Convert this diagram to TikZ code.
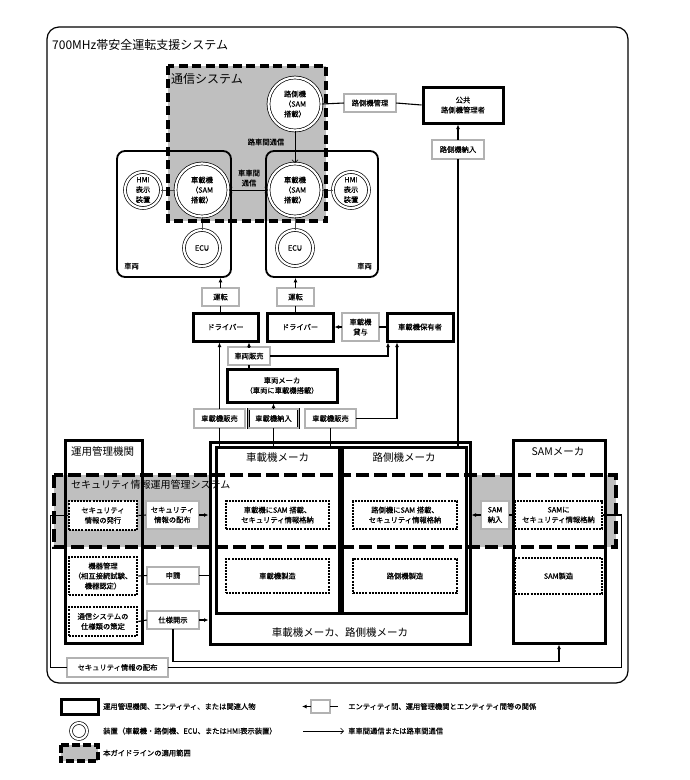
\documentclass[tikz,border=0pt]{standalone}
\usepackage{fontspec}
\setmainfont{Noto Sans CJK JP}
\newfontfamily\jpsmall[FakeBold=0.5]{Noto Sans CJK JP}
\usetikzlibrary{arrows.meta,calc}
\begin{document}
\begin{tikzpicture}[x=1pt,y=-1pt,
  every node/.style={font=\jpsmall\fontsize{7.3}{10}\selectfont, align=center, inner sep=0pt},
  bigtxt/.style={font=\rmfamily\fontsize{12}{14}\selectfont},
  midtxt/.style={font=\rmfamily\fontsize{10.5}{12}\selectfont},
  thickbox/.style={draw, line width=3pt, fill=white},
  openbox/.style={draw, line width=3pt},
  relbox/.style={draw, line width=0.5pt, double=black!30, double distance=1.9pt, fill=white},
  dotbox/.style={draw, line width=2.6pt, dash pattern=on 2pt off 1.1pt, fill=white},
  dev/.style={circle, draw, line width=0.7pt, fill=white, double=white, double distance=2.2pt},
  vehbox/.style={draw, line width=1.8pt, rounded corners=8pt},
  conn/.style={line width=1.1pt},
  arr/.style={conn, -{Latex[length=4.5pt,width=4pt]}},
  commarr/.style={line width=0.6pt, -{Straight Barb[length=3pt,width=6pt]}},
  thinl/.style={line width=0.4pt, black!70},
  scopedash/.style={line width=4pt, dash pattern=on 9pt off 4.5pt},
  banddash/.style={line width=3.5pt, dash pattern=on 13pt off 5pt},
  grayfill/.style={fill=black!25}
]
\useasboundingbox (0,0) rectangle (690,780);
% outer frame
\draw[line width=1.2pt, rounded corners=12pt] (47,27) rectangle (628,683);
\node[anchor=west, bigtxt] (title) at (52,45) {700MHz帯安全運転支援システム};

% scope regions (fills)
\node[minimum width=158pt, minimum height=155pt] (comm) at (247,143.5) {};
\node[minimum width=562pt, minimum height=72pt] (band) at (335,511) {};
\fill[grayfill] (comm.north west) rectangle (comm.south east);
\fill[grayfill] (band.north west) rectangle (band.south east);

% vehicles
\node[vehbox, minimum width=114pt, minimum height=126pt] (vehL) at (174,214) {};
\node[vehbox, minimum width=112pt, minimum height=126pt] (vehR) at (322,214) {};
\node[anchor=west] (vehLl) at (124,266) {車両};
\node[anchor=east] (vehRl) at (372,266) {車両};

% devices
\node[dev, minimum size=53pt] (rsu) at (295,104) {路側機\\（SAM\\搭載）};
\node[dev, minimum size=53pt] (obuL) at (202,190) {車載機\\（SAM\\搭載）};
\node[dev, minimum size=53pt] (obuR) at (295,190) {車載機\\（SAM\\搭載）};
\node[dev, minimum size=36pt] (hmiL) at (143,190) {HMI\\表示\\装置};
\node[dev, minimum size=36pt] (hmiR) at (351,190) {HMI\\表示\\装置};
\node[dev, minimum size=36pt] (ecuL) at (202,248) {ECU};
\node[dev, minimum size=36pt] (ecuR) at (295,248) {ECU};

% upper entities
\node[thickbox, minimum width=80pt, minimum height=36pt] (pub) at (463,105) {公共\\路側機管理者};
\node[relbox, minimum width=52pt, minimum height=18pt] (rsmgmt) at (370,103) {路側機管理};
\node[relbox, minimum width=52pt, minimum height=19pt] (rsin) at (458,149.5) {路側機納入};
\node[relbox, minimum width=37pt, minimum height=18pt] (unL) at (220.5,297) {運転};
\node[relbox, minimum width=37pt, minimum height=18pt] (unR) at (295.5,297) {運転};
\node[thickbox, minimum width=65pt, minimum height=28pt] (drvL) at (225.5,327) {ドライバー};
\node[thickbox, minimum width=66pt, minimum height=28pt] (drvR) at (300,327) {ドライバー};
\node[relbox, minimum width=37pt, minimum height=28pt] (lend) at (360.5,327) {車載機\\貸与};
\node[thickbox, minimum width=66pt, minimum height=28pt] (owner) at (420,327) {車載機保有者};
\node[relbox, minimum width=42pt, minimum height=18pt] (vsale) at (249,356) {車両販売};
\node[thickbox, minimum width=110pt, minimum height=33pt] (vmaker) at (282,385.5) {車両メーカ\\（車両に車載機搭載）};
\node[relbox, minimum width=51pt, minimum height=19pt] (obsL) at (219.5,418.5) {車載機販売};
\node[relbox, minimum width=50pt, minimum height=19pt] (obin) at (273.5,418.5) {車載機納入};
\node[relbox, minimum width=51pt, minimum height=19pt] (obsR) at (330.5,418.5) {車載機販売};

% lower entities
\node[openbox, minimum width=77pt, minimum height=203pt] (ops) at (103.5,541.5) {};
\node[anchor=west, midtxt] (opsl) at (71,452) {運用管理機関};
\node[thickbox, minimum width=260pt, minimum height=202pt] (big) at (340,543) {};
\node[midtxt] (bigl) at (340,633) {車載機メーカ、路側機メーカ};
\node[thickbox, minimum width=123pt, minimum height=166pt] (obm) at (277.5,530) {};
\node[thickbox, minimum width=124pt, minimum height=166pt] (rsm) at (404,530) {};
\node[midtxt] (obml) at (277.5,458) {車載機メーカ};
\node[midtxt] (rsml) at (404,458) {路側機メーカ};
\node[thickbox, minimum width=92pt, minimum height=203pt] (samm) at (559,541.5) {};
\node[midtxt] (samml) at (558,452) {SAMメーカ};

\node[dotbox, minimum width=68pt, minimum height=29pt] (issue) at (103,515.5) {セキュリティ\\情報の発行};
\node[dotbox, minimum width=68pt, minimum height=38pt] (devmg) at (103,576) {機器管理\\（相互接続試験、\\機器認定）};
\node[dotbox, minimum width=68pt, minimum height=29pt] (spec) at (103,621.5) {通信システムの\\仕様類の策定};
\node[dotbox, minimum width=103pt, minimum height=28pt] (obsam) at (277.5,515) {車載機にSAM 搭載、\\セキュリティ情報格納};
\node[dotbox, minimum width=103pt, minimum height=34pt] (obmf) at (277.5,576) {車載機製造};
\node[dotbox, minimum width=104pt, minimum height=28pt] (rssam) at (405,515) {路側機にSAM 搭載、\\セキュリティ情報格納};
\node[dotbox, minimum width=104pt, minimum height=34pt] (rsmf) at (405,576) {路側機製造};
\node[dotbox, minimum width=87pt, minimum height=28pt] (samsec) at (558.5,515) {SAMに\\セキュリティ情報格納};
\node[dotbox, minimum width=87pt, minimum height=36pt] (sammf) at (558.5,576) {SAM製造};

\node[relbox, minimum width=53pt, minimum height=28pt] (dist1) at (172.5,515) {セキュリティ\\情報の配布};
\node[relbox, minimum width=52pt, minimum height=17pt] (apply) at (173,575.5) {申請};
\node[relbox, minimum width=52pt, minimum height=18pt] (spdis) at (173,620) {仕様開示};
\node[relbox, minimum width=28pt, minimum height=28pt] (samin) at (495,515) {SAM\\納入};
\node[relbox, minimum width=101pt, minimum height=19pt] (dist2) at (117.5,667.5) {セキュリティ情報の配布};

% device links
\draw[thinl] (obuL.west) -- (hmiL.east);
\draw[thinl] (obuL.south) -- (ecuL.north);
\draw[thinl] (obuR.east) -- (hmiR.west);
\draw[thinl] (obuR.south) -- (ecuR.north);
\draw[commarr] (rsu.south) -- (obuR.north);
\draw[line width=0.6pt, {Straight Barb[length=3pt,width=6pt]}-{Straight Barb[length=3pt,width=6pt]}] (obuL.east) -- (obuR.west);
\node (lrv) at (266,142) {路車間通信};
\node (lvv) at (249,178) {車車間\\通信};

% upper connectors
\draw[conn] (rsmgmt.west) -- (rsu.east);
\draw[conn] (rsmgmt.east) -- (pub.west);
\draw[conn] (rsin.south) -- (rsin.south |- rsm.north);
\draw[arr] (rsin.north) -- (rsin.north |- pub.south);
\draw[conn] (unL.south) -- (unL.south |- drvL.north);
\draw[arr] (unL.north) -- (unL.north |- vehL.south);
\draw[conn] (unR.south) -- (unR.south |- drvR.north);
\draw[arr] (unR.north) -- (unR.north |- vehR.south);
\draw[conn] (owner.west) -- (lend.east);
\draw[arr] (lend.west) -- (drvR.east);
\draw[conn] (vsale.south) -- (vsale.south |- vmaker.north);
\draw[arr] (vsale.north) -- (vsale.north |- drvL.south);
\draw[arr] (vsale.east) -| ($(owner.south)+(-32,0)$);
\draw[arr] (obsR.east) -| ($(owner.south)+(-23,0)$);
\draw[arr] (obsL.north) -- (obsL.north |- drvL.south);
\draw[conn] (obsL.south) -- (obsL.south |- obm.north);
\draw[arr] (obin.north) -- (obin.north |- vmaker.south);
\draw[conn] (obin.south) -- (obin.south |- obm.north);
\draw[conn] (obsR.south) -- (obsR.south |- obm.north);

% lower connectors
\draw[conn] (issue.east) -- (dist1.west);
\draw[arr] (dist1.east) -- (dist1.east -| big.west);
\draw[conn] (devmg.east) -- (apply.west);
\draw[conn] (apply.east) -- (apply.east -| big.west);
\draw[conn] (spec.east) -- (spdis.west);
\draw[arr] (spdis.east) -- (spdis.east -| big.west);
\draw[arr] (spdis.south) |- ($(samm.south)+(0,17)$) -- (samm.south);
\draw[arr] (samin.west) -- (samin.west -| big.east);
\draw[conn] (samin.east) -- (samin.east -| samm.west);
\draw[conn] (issue.west) -- ++(-17,0) |- (dist2.west);
\draw[conn] (dist2.east) -| ($(samsec.east)+(18,0)$) -- (samsec.east);

% scope borders on top
\draw[scopedash] (comm.north west) rectangle (comm.south east);
\draw[banddash] (band.north west) rectangle (band.south east);
\node[anchor=west, bigtxt] (comml) at (171,79) {通信システム};
\node[anchor=west, font=\rmfamily\fontsize{10}{12}\selectfont] (bandl) at (71,485) {セキュリティ情報運用管理システム};

% legend
\node[thickbox, minimum width=37pt, minimum height=15pt] (legent) at (79.5,706.5) {};
\node[anchor=west] (legentl) at (103,706.5) {運用管理機関、エンティティ、または関連人物};
\node[relbox, minimum width=19pt, minimum height=13pt] (legrel) at (320.5,706.5) {};
\coordinate (legrelL) at (302,706.5);
\coordinate (legrelR) at (338,706.5);
\draw[arr] (legrel.west) -- (legrelL);
\draw[conn] (legrel.east) -- (legrelR);
\node[anchor=west] (legrell) at (348,706.5) {エンティティ間、運用管理機関とエンティティ間等の関係};
\node[dev, minimum size=16pt] (legdev) at (79,731) {};
\node[anchor=west] (legdevl) at (103,731) {装置（車載機・路側機、ECU、またはHMI表示装置）};
\coordinate (legcA) at (303,731);
\coordinate (legcB) at (344,731);
\draw[commarr] (legcA) -- (legcB);
\node[anchor=west] (legcl) at (348,731) {車車間通信または路車間通信};
\node[grayfill, minimum width=37pt, minimum height=16pt] (legscope) at (79.5,753) {};
\draw[banddash, dash pattern=on 8pt off 3pt] (legscope.north west) rectangle (legscope.south east);
\node[anchor=west] (legscl) at (103,753) {本ガイドラインの適用範囲};
\end{tikzpicture}
\end{document}
